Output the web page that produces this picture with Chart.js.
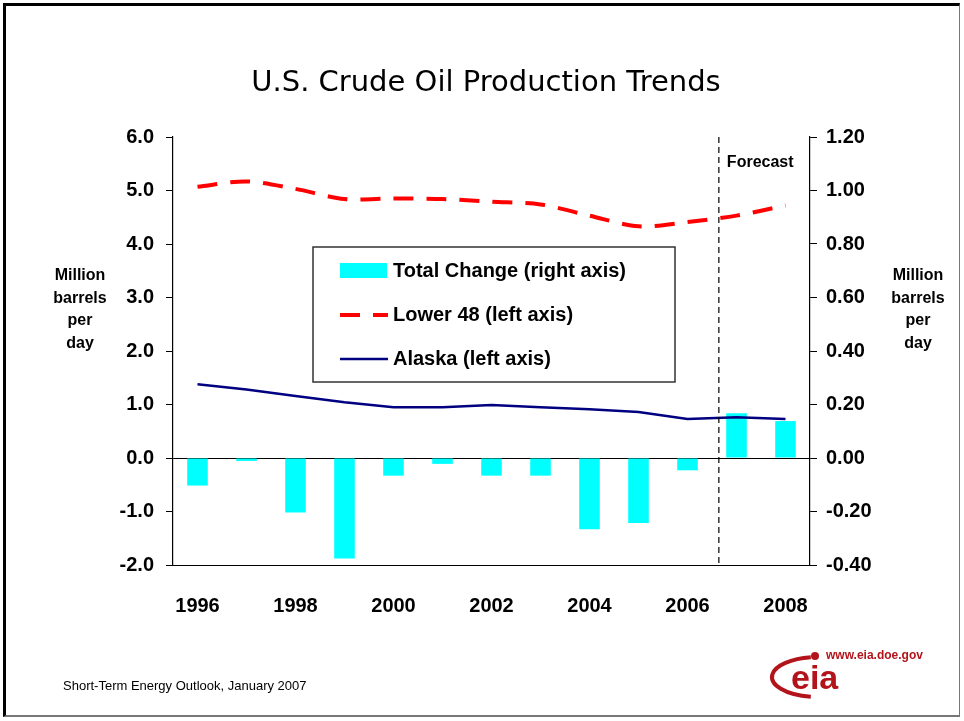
<!DOCTYPE html>
<html lang="en">
<head>
  <meta charset="UTF-8">
  <title>U.S. Crude Oil Production Trends</title>
  <script src="https://cdn.jsdelivr.net/npm/chart.js"></script>
  <style>
    html, body { margin: 0; padding: 0; background: #fff; }
    #wrap { position: relative; width: 964px; height: 721px; overflow: hidden; }
    #frame {
      position: absolute; left: 3px; top: 3px; width: 957px; height: 714px;
      border-left: 3px solid #000; border-top: 3px solid #000;
      border-right: 1px solid #777; border-bottom: 2px solid #777;
      box-sizing: border-box; pointer-events: none;
    }
    canvas { position: absolute; left: 0; top: 0; }
  </style>
</head>
<body>
<div id="wrap">
  <canvas id="oilChart" width="964" height="721"></canvas>
  <div id="frame"></div>
</div>

<script>
// data
const years = ['1996','1997','1998','1999','2000','2001','2002','2003','2004','2005','2006','2007','2008'];
const totalChange = [-0.103, -0.011, -0.204, -0.376, -0.066, -0.022, -0.066, -0.066, -0.266, -0.243, -0.046, 0.167, 0.138];
const lower48 = [5.07, 5.17, 5.03, 4.84, 4.85, 4.84, 4.79, 4.74, 4.53, 4.33, 4.41, 4.53, 4.72];
const alaska = [1.38, 1.28, 1.16, 1.04, 0.95, 0.95, 0.99, 0.95, 0.91, 0.86, 0.73, 0.76, 0.73];
const forecastAt = 10.64; // category position of the forecast divider
const boldFont = 'bold 20px "Liberation Sans", Arial, sans-serif';

// title, axis titles, forecast divider, legend, footer, logo
const extras = {
  id: 'extras',
  afterDatasetsDraw(chart) {
    const ctx = chart.ctx;
    const area = chart.chartArea;
    const x = chart.scales.x;

    // forecast divider
    const fx = x.getPixelForValue(Math.floor(forecastAt)) +
      (forecastAt - Math.floor(forecastAt)) * (x.getPixelForValue(1) - x.getPixelForValue(0));
    ctx.save();
    ctx.strokeStyle = '#000';
    ctx.lineWidth = 1.2;
    ctx.setLineDash([6, 4]);
    ctx.beginPath();
    ctx.moveTo(fx, area.top);
    ctx.lineTo(fx, area.bottom);
    ctx.stroke();
    ctx.setLineDash([]);
    ctx.fillStyle = '#000';
    ctx.font = 'bold 16px "Liberation Sans", Arial, sans-serif';
    ctx.textAlign = 'left';
    ctx.textBaseline = 'middle';
    ctx.fillText('Forecast', fx + 8, 163);

    // legend box
    const lx = 313, ly = 247, lw = 362, lh = 135;
    ctx.fillStyle = '#fff';
    ctx.fillRect(lx, ly, lw, lh);
    ctx.strokeStyle = '#333';
    ctx.lineWidth = 1.5;
    ctx.strokeRect(lx, ly, lw, lh);
    const rows = [271, 315, 359];
    chart.data.datasets.forEach((ds, i) => {
      const yy = rows[i];
      if (ds.type === 'bar') {
        ctx.fillStyle = ds.backgroundColor;
        ctx.fillRect(340, yy - 8, 47, 15);
      } else {
        ctx.strokeStyle = ds.borderColor;
        ctx.lineWidth = ds.borderWidth;
        ctx.setLineDash(ds.borderDash || []);
        ctx.beginPath();
        ctx.moveTo(340, yy);
        ctx.lineTo(388, yy);
        ctx.stroke();
        ctx.setLineDash([]);
      }
      ctx.fillStyle = '#000';
      ctx.font = boldFont;
      ctx.textAlign = 'left';
      ctx.textBaseline = 'middle';
      ctx.fillText(ds.label, 393, yy);
    });

    // chart title
    ctx.font = '29px "DejaVu Sans", Verdana, sans-serif';
    ctx.textAlign = 'center';
    ctx.fillStyle = '#000';
    ctx.fillText('U.S. Crude Oil Production Trends', 486, 83);

    // axis titles
    ctx.font = 'bold 16px "Liberation Sans", Arial, sans-serif';
    const unitLines = ['Million', 'barrels', 'per', 'day'];
    unitLines.forEach((t, i) => {
      ctx.fillText(t, 80, 276 + i * 22.5);
      ctx.fillText(t, 918, 276 + i * 22.5);
    });

    // footer
    ctx.font = '13px "Liberation Sans", Arial, sans-serif';
    ctx.textAlign = 'left';
    ctx.fillText('Short-Term Energy Outlook, January 2007', 63, 686);

    // eia logo
    ctx.fillStyle = '#b3141b';
    ctx.font = 'bold 12px "Liberation Sans", Arial, sans-serif';
    ctx.fillText('www.eia.doe.gov', 826, 656);
    ctx.beginPath();
    ctx.arc(815, 656, 4, 0, Math.PI * 2);
    ctx.fill();
    ctx.strokeStyle = '#b3141b';
    ctx.lineWidth = 4;
    ctx.beginPath();
    ctx.ellipse(818, 677, 46, 20, 0, Math.PI * 0.55, Math.PI * 1.45);
    ctx.stroke();
    ctx.font = 'bold 34px "Liberation Sans", Arial, sans-serif';
    ctx.fillText('eia', 791, 680);
    ctx.restore();
  }
};

new Chart(document.getElementById('oilChart'), {
  data: {
    labels: years,
    datasets: [
      {
        type: 'bar',
        label: 'Total Change (right axis)',
        data: totalChange,
        yAxisID: 'y1',
        backgroundColor: '#00ffff',
        categoryPercentage: 1,
        barPercentage: 0.42,
        order: 2
      },
      {
        type: 'line',
        label: 'Lower 48 (left axis)',
        data: lower48,
        yAxisID: 'y',
        borderColor: '#ff0000',
        borderWidth: 4,
        borderDash: [20, 13],
        pointRadius: 0,
        tension: 0.3,
        fill: false,
        order: 1
      },
      {
        type: 'line',
        label: 'Alaska (left axis)',
        data: alaska,
        yAxisID: 'y',
        borderColor: '#000080',
        borderWidth: 2.5,
        pointRadius: 0,
        tension: 0,
        fill: false,
        order: 0
      }
    ]
  },
  options: {
    responsive: false,
    animation: false,
    layout: { padding: { top: 137, left: 0, right: 0, bottom: 0 } },
    plugins: {
      legend: { display: false },
      title: { display: false },
      tooltip: { enabled: false }
    },
    scales: {
      x: {
        offset: true,
        grid: { display: false },
        border: { display: true, color: '#000', width: 1 },
        ticks: {
          color: '#000',
          font: { family: '"Liberation Sans", Arial, sans-serif', size: 20, weight: 'bold' },
          padding: 21,
          maxRotation: 0,
          autoSkip: false,
          callback: (v, i) => (i % 2 === 0 ? years[i] : '')
        },
        afterFit: s => { s.height = 156; }
      },
      y: {
        position: 'left',
        min: -2, max: 6,
        grid: {
          drawOnChartArea: true,
          color: c => (c.tick && c.tick.value === 0 ? '#000' : 'rgba(0,0,0,0)'),
          tickColor: '#000',
          tickLength: 7
        },
        border: { display: true, color: '#000', width: 1.2 },
        ticks: {
          stepSize: 1,
          color: '#000',
          padding: 12,
          font: { family: '"Liberation Sans", Arial, sans-serif', size: 20, weight: 'bold' },
          callback: v => v.toFixed(1)
        },
        afterFit: s => { s.width = 173; }
      },
      y1: {
        position: 'right',
        min: -0.4, max: 1.2,
        grid: { drawOnChartArea: false, tickColor: '#000', tickLength: 7 },
        border: { display: true, color: '#000', width: 1.2 },
        ticks: {
          stepSize: 0.2,
          color: '#000',
          padding: 9,
          font: { family: '"Liberation Sans", Arial, sans-serif', size: 20, weight: 'bold' },
          callback: v => v.toFixed(2)
        },
        afterFit: s => { s.width = 154; }
      }
    }
  },
  plugins: [extras]
});
</script>
</body>
</html>
